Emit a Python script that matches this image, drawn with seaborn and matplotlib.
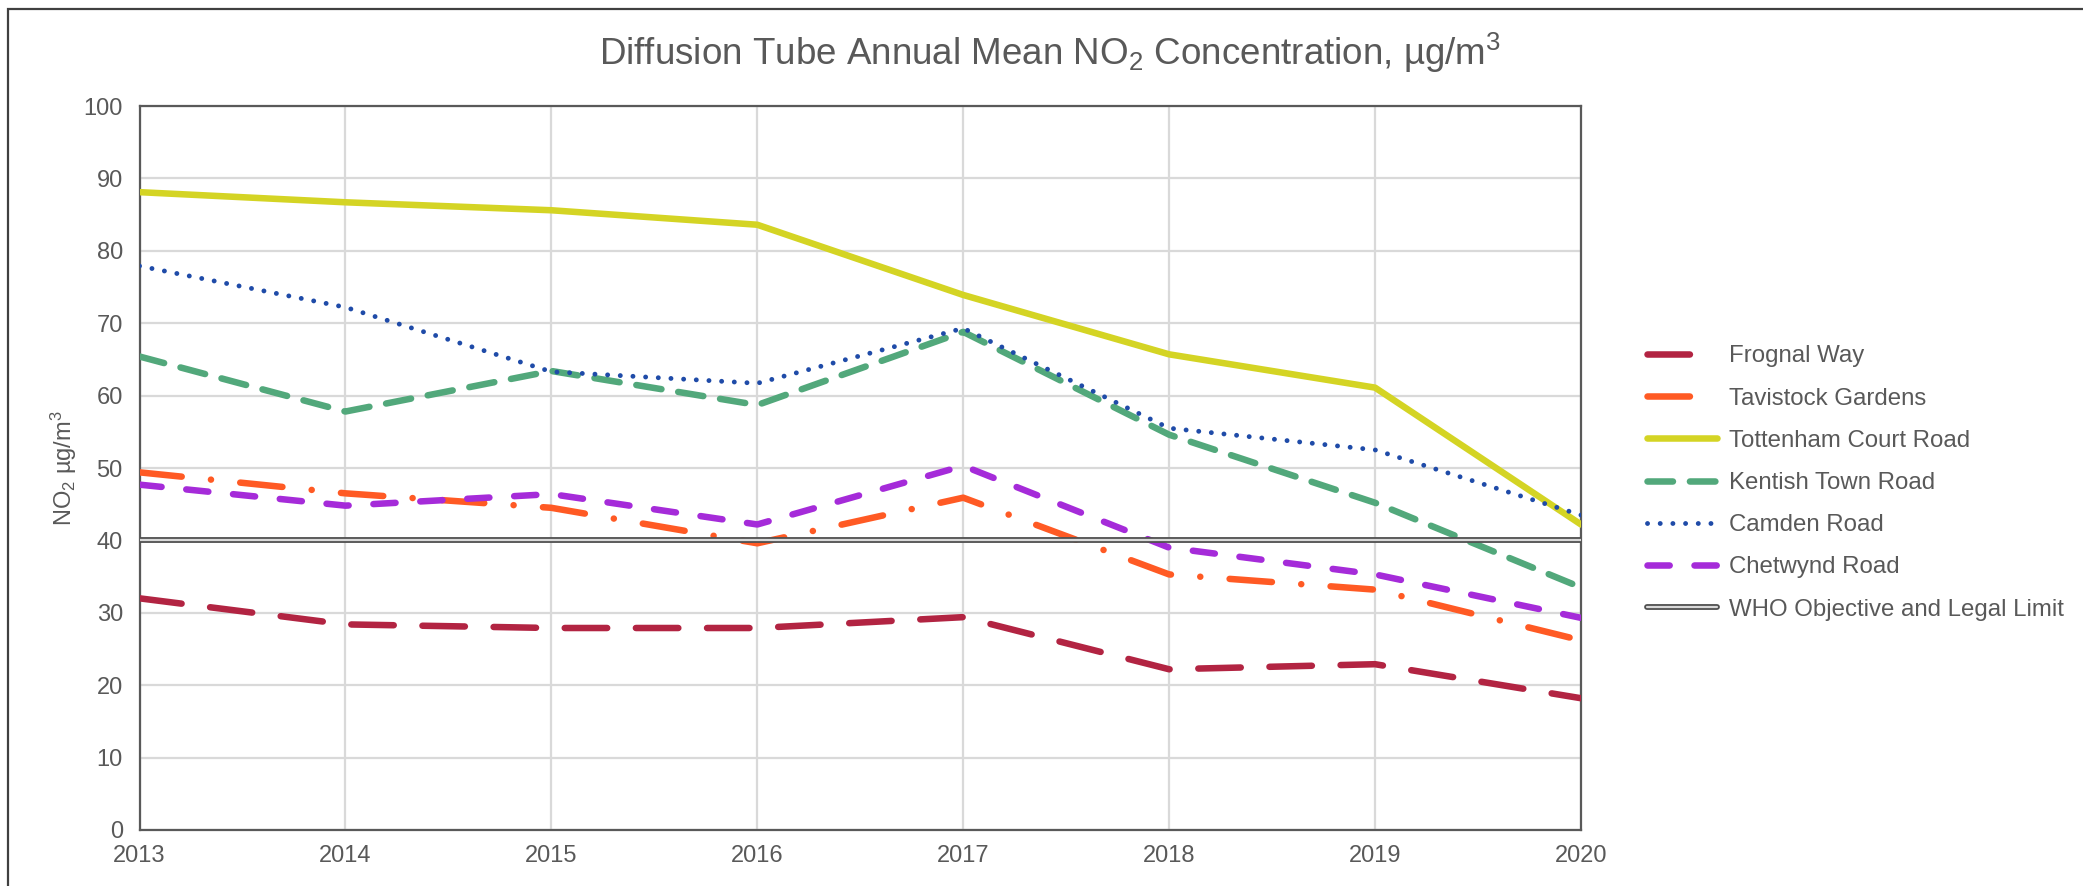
import numpy as np
import pandas as pd
import matplotlib
matplotlib.use("Agg")
import matplotlib.pyplot as plt
import matplotlib.patheffects as pe
from matplotlib.patches import Rectangle
import seaborn as sns

# ---- data ----
years = [2013, 2014, 2015, 2016, 2017, 2018, 2019, 2020]
frognal_way = [32.0, 28.4, 27.9, 27.9, 29.4, 22.2, 22.9, 18.2]
tavistock_gardens = [49.4, 46.5, 44.5, 39.6, 45.9, 35.3, 33.2, 26.2]
tottenham_court_road = [88.1, 86.7, 85.6, 83.6, 73.9, 65.7, 61.1, 42.2]
kentish_town_road = [65.4, 57.8, 63.4, 58.7, 68.8, 54.6, 45.2, 33.5]
camden_road = [77.9, 72.2, 63.3, 61.7, 69.3, 55.5, 52.5, 43.5]
chetwynd_road = [47.7, 44.8, 46.4, 42.2, 50.3, 39.0, 35.3, 29.3]
who_limit = [40, 40, 40, 40, 40, 40, 40, 40]

series_names = ["Frognal Way", "Tavistock Gardens", "Tottenham Court Road",
                "Kentish Town Road", "Camden Road", "Chetwynd Road",
                "WHO Objective and Legal Limit"]
y_ticks = [0, 10, 20, 30, 40, 50, 60, 70, 80, 90, 100]

sns.set_theme(style="white")
plt.rcParams['font.family'] = ['Liberation Sans', 'DejaVu Sans']
plt.rcParams['mathtext.fontset'] = 'custom'
plt.rcParams['mathtext.rm'] = 'Liberation Sans'
plt.rcParams['mathtext.it'] = 'Liberation Sans:italic'
plt.rcParams['mathtext.bf'] = 'Liberation Sans:bold'
plt.rcParams['mathtext.default'] = 'regular'

TXT = '#595959'
W, H = 2083, 886
fig = plt.figure(figsize=(W / 100, H / 100), dpi=100)
fig.patch.set_facecolor('white')

# outer chart frame (only top/left visible)
fig.patches.append(Rectangle((8 / W, -0.2), 1.2, 1.2 - 9 / H,
                             transform=fig.transFigure, fill=False,
                             edgecolor='#404040', lw=1.6, zorder=0))

left, right, top, bottom = 139.5, 1581, 106, 830
ax = fig.add_axes([left / W, 1 - bottom / H, (right - left) / W, (bottom - top) / H])

data = pd.DataFrame({"year": years,
                     series_names[0]: frognal_way,
                     series_names[1]: tavistock_gardens,
                     series_names[2]: tottenham_court_road,
                     series_names[3]: kentish_town_road,
                     series_names[4]: camden_road,
                     series_names[5]: chetwynd_road,
                     series_names[6]: who_limit})

styles = {
    "Frognal Way": dict(color='#B22442', lw=4.7, dashes=(6.5, 4.4)),
    "Tavistock Gardens": dict(color='#FF5A24', lw=4.7, dashes=(6.5, 4.5, 0.01, 4.5)),
    "Tottenham Court Road": dict(color='#D4D424', lw=4.7, dashes=None),
    "Kentish Town Road": dict(color='#52A87B', lw=4.7, dashes=(3.9, 2.6)),
    "Camden Road": dict(color='#1F4BA8', lw=3.5, dashes=(0.01, 2.6)),
    "Chetwynd Road": dict(color='#A52BD9', lw=4.7, dashes=(3.4, 3.8)),
}

for name in series_names[:6]:
    st = styles[name]
    sns.lineplot(data=data, x="year", y=name, ax=ax, color=st['color'],
                 lw=st['lw'], label=name, zorder=3)
    line = ax.lines[-1]
    line.set_solid_capstyle('round')
    line.set_dash_capstyle('round')
    line.set_solid_joinstyle('round')
    line.set_dash_joinstyle('round')
    if st['dashes'] is not None:
        line.set_dashes(st['dashes'])

sns.lineplot(data=data, x="year", y=series_names[6], ax=ax, color='#D9D9D9',
             lw=1.6, label=series_names[6], zorder=4)
who_line = ax.lines[-1]
who_line.set_solid_capstyle('round')
who_line.set_path_effects([pe.Stroke(linewidth=4.2, foreground='#505050'), pe.Normal()])

ax.set_xlim(years[0], years[-1])
ax.set_ylim(0, 100)
ax.set_xticks(years)
ax.set_xticklabels([str(y) for y in years])
ax.set_yticks(y_ticks)
ax.set_yticklabels([str(t) for t in y_ticks])
ax.grid(True, color='#D9D9D9', lw=1.6, zorder=0)
ax.set_axisbelow(True)
for sp in ax.spines.values():
    sp.set_color('#595959')
    sp.set_linewidth(1.6)
ax.tick_params(axis='both', length=0, labelsize=17, colors=TXT)
ax.tick_params(axis='x', pad=11)
ax.tick_params(axis='y', pad=12)
ax.set_xlabel("")
ax.set_ylabel("NO$_2$ µg/m$^3$", fontsize=17, color=TXT, labelpad=3)

fig.text(1050 / W, 1 - 53 / H,
         "Diffusion Tube Annual Mean NO$_2$ Concentration, µg/m$^3$",
         ha='center', va='center', fontsize=26.5, color=TXT)

leg = ax.legend(loc='center left', bbox_to_anchor=(1647 / W, 1 - 483 / H),
                bbox_transform=fig.transFigure, frameon=False, fontsize=17.3,
                labelspacing=0.84, handlelength=2.9, handletextpad=0.5,
                borderpad=0, borderaxespad=0)
for t in leg.get_texts():
    t.set_color(TXT)

fig.savefig("out.png", dpi=100, facecolor='white')
